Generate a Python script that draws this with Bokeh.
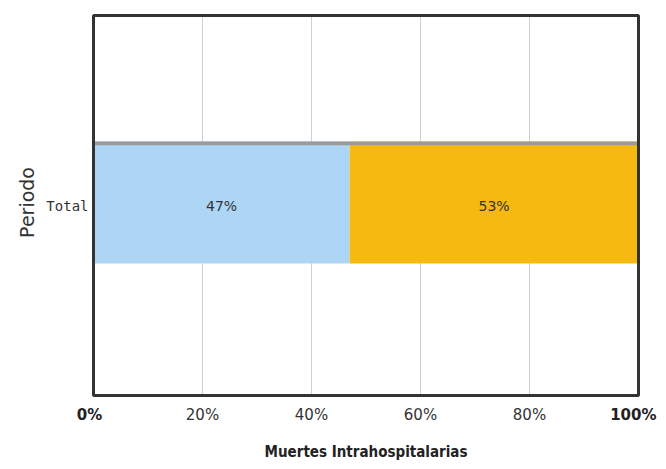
import math
from bokeh.plotting import figure
from bokeh.models import Range1d, ColumnDataSource
from bokeh.embed import file_html
from bokeh.resources import INLINE
from bokeh.core.properties import value

categories = ["Total"]
share_a = [47]
share_b = [53]
x_ticks = [0, 20, 40, 60, 80, 100]
x_tick_labels = ["0%", "20%", "40%", "60%", "80%", "100%"]
x_title = "Muertes Intrahospitalarias"
y_title = "Periodo"

colors = ["#acd5f6", "#f5b90f"]

# ---- layout of the canvas (pixels) ----
W, H = 658, 461
box_l, box_r, box_t, box_b = 93, 638, 15, 395
px_x = (box_r - box_l) / (x_ticks[-1] - x_ticks[0])   # pixels per x unit
px_y = (box_b - box_t) / 1.0                          # plot box spans y 0..1

p = figure(width=W, height=H, output_backend="svg", toolbar_location=None,
           x_range=Range1d(x_ticks[0] - box_l / px_x, x_ticks[-1] + (W - box_r) / px_x),
           y_range=Range1d(-(H - box_b) / px_y, 1 + box_t / px_y),
           min_border=0, x_axis_type=None, y_axis_type=None)
p.outline_line_color = None
p.grid.visible = False
p.background_fill_color = "white"
p.border_fill_color = "white"

n = len(categories)
cat_y = [(n - i - 0.5) / n for i in range(n)]
shift = 0.008
bar_h = 0.321

src = ColumnDataSource(dict(
    period=categories,
    y=[c + shift for c in cat_y],
    ytop=[c + shift + bar_h / 2 - 0.005 for c in cat_y],
    ylab=cat_y,
    a_end=[v for v in share_a],
    b_end=[a + b for a, b in zip(share_a, share_b)],
    a_mid=[v / 2 for v in share_a],
    b_mid=[a + b / 2 for a, b in zip(share_a, share_b)],
    a_lab=[f"{v}%" for v in share_a],
    b_lab=[f"{v}%" for v in share_b],
    zero=[x_ticks[0] for _ in categories],
))

# vertical grid lines inside the plot box
inner = x_ticks[1:-1]
p.segment(x0=inner, y0=[0] * len(inner), x1=inner, y1=[1] * len(inner),
          line_color="#cfcfcf", line_width=1)

# stacked bars
p.hbar(y="y", left="zero", right="a_end", height=bar_h, source=src,
       fill_color=colors[0], line_color=None)
p.hbar(y="y", left="a_end", right="b_end", height=bar_h, source=src,
       fill_color=colors[1], line_color=None)
p.hbar(y="ytop", left="zero", right="b_end", height=0.01, source=src,
       fill_color="#9a9a9a", line_color=None)

for xcol, lcol in [("a_mid", "a_lab"), ("b_mid", "b_lab")]:
    p.text(x=xcol, y="ylab", text=lcol, source=src, text_align="center",
           text_baseline="middle", text_font=value("DejaVu Sans"), text_font_size="14px",
           text_color="#333333")

# plot box border
p.quad(left=[x_ticks[0]], right=[x_ticks[-1]], bottom=[0], top=[1],
       fill_color=None, line_color="#333333", line_width=3)

# x tick labels (ends bold)
tick_y = -(414 - box_b) / px_y
p.text(x=inner, y=[tick_y] * len(inner), text=x_tick_labels[1:-1],
       text_align="center", text_baseline="middle", text_font=value("DejaVu Sans"),
       text_font_size="15px", text_color="#333333")
p.text(x=[x_ticks[0] - 4 / px_x], y=[tick_y], text=[x_tick_labels[0]],
       text_align="center", text_baseline="middle", text_font=value("DejaVu Sans"),
       text_font_style="bold", text_font_size="15px", text_color="#222222")
p.text(x=[x_ticks[-1] + (W - 2 - box_r) / px_x], y=[tick_y], text=[x_tick_labels[-1]],
       text_align="right", text_baseline="middle", text_font=value("DejaVu Sans"),
       text_font_style="bold", text_font_size="15px", text_color="#222222")

# x title
p.text(x=[(x_ticks[0] + x_ticks[-1]) / 2], y=[-(460 - box_b) / px_y], text=[x_title],
       text_align="center", text_baseline="bottom", text_font=value("DejaVu Sans Condensed"),
       text_font_style="bold", text_font_size="15px", text_color="#222222")

# y category labels
p.text(x=[x_ticks[0] - 5 / px_x] * n, y=cat_y, text=categories, text_align="right",
       text_baseline="middle", text_font=value("DejaVu Sans Mono"), text_font_size="14px",
       text_color="#333333")

# y title
p.text(x=[x_ticks[0] - (box_l - 26) / px_x], y=[0.5 + shift], text=[y_title], angle=math.pi / 2,
       text_align="center", text_baseline="middle", text_font=value("DejaVu Sans"),
       text_font_size="19px", text_color="#333333")

open("out.html", "w").write(file_html(p, INLINE))
